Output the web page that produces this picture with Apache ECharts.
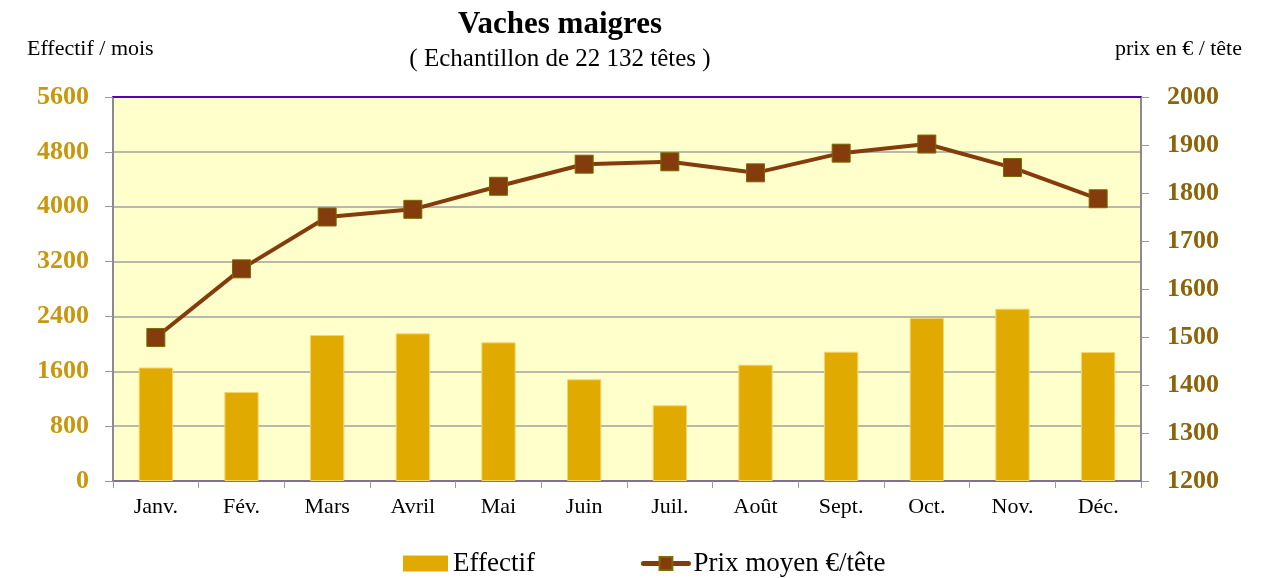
<!DOCTYPE html>
<html>
<head>
<meta charset="utf-8">
<script src="https://cdn.jsdelivr.net/npm/echarts@6/dist/echarts.min.js"></script>
<style>
  html, body { margin: 0; padding: 0; background: #fff; }
  #main { width: 1267px; height: 578px; }
</style>
</head>
<body>
<div id="main"></div>
<script>
// données
const mois = ['Janv.', 'Fév.', 'Mars', 'Avril', 'Mai', 'Juin', 'Juil.', 'Août', 'Sept.', 'Oct.', 'Nov.', 'Déc.']
const effectif = [1655, 1298, 2129, 2153, 2022, 1483, 1104, 1696, 1886, 2377, 2513, 1881]
const prixMoyen = [1499, 1642, 1750, 1766, 1814, 1860, 1865, 1842, 1883, 1902, 1853, 1788]

const serif = '"Liberation Serif", "DejaVu Serif", serif'

const myChart = echarts.init(document.getElementById('main'))

const option = {
  backgroundColor: '#ffffff',
  animation: false,
  title: [
    {
      text: 'Vaches maigres',
      left: 555, top: 4, textAlign: 'center',
      textStyle: { fontFamily: serif, fontSize: 31, fontWeight: 'bold', color: '#000' }
    },
    {
      text: '( Echantillon de 22 132 têtes )',
      left: 555, top: 42, textAlign: 'center',
      textStyle: { fontFamily: serif, fontSize: 25, fontWeight: 'normal', color: '#000' }
    },
    {
      text: 'Effectif / mois',
      left: 27, top: 38, padding: 0,
      textStyle: { fontFamily: serif, fontSize: 22, fontWeight: 'normal', color: '#000' }
    },
    {
      text: 'prix en € / tête',
      right: 25, top: 38, padding: 0,
      textStyle: { fontFamily: serif, fontSize: 22, fontWeight: 'normal', color: '#000' }
    }
  ],
  legend: {
    top: 545,
    left: 398,
    itemGap: 106,
    textStyle: { fontFamily: serif, fontSize: 27, color: '#000' },
    data: [
      { name: 'Effectif', icon: 'rect', itemStyle: { borderWidth: 0 } },
      { name: 'Prix moyen €/tête', lineStyle: { width: 5, cap: 'round' } }
    ],
    itemWidth: 45,
    itemHeight: 16
  },
  grid: {
    left: 113, right: 126, top: 97, bottom: 97,
    show: true,
    backgroundColor: '#FFFFCC',
    borderWidth: 0
  },
  xAxis: [
    {
      type: 'category',
      data: mois,
      axisLine: { lineStyle: { color: '#7f6f9a', width: 2 } },
      axisTick: { show: true, length: 7, lineStyle: { color: '#999' } },
      axisLabel: { fontFamily: serif, fontSize: 22, color: '#000', margin: 15 }
    },
    {
      type: 'category',
      position: 'top',
      data: mois,
      axisLine: { lineStyle: { color: '#5a00b4', width: 2 } },
      axisTick: { show: false },
      axisLabel: { show: false }
    }
  ],
  yAxis: [
    {
      type: 'value',
      min: 0, max: 5600, interval: 800,
      axisLine: { show: true, lineStyle: { color: '#8c8896', width: 2 } },
      axisTick: { show: true, length: 8, lineStyle: { color: '#999' } },
      axisLabel: {
        fontFamily: serif, fontSize: 26, fontWeight: 'bold', color: '#C9960C', margin: 24,
        formatter: v => String(v)
      },
      splitLine: { lineStyle: { color: '#a0a0a0', width: 1.5 } }
    },
    {
      type: 'value',
      min: 1200, max: 2000, interval: 100,
      position: 'right',
      axisLine: { show: true, lineStyle: { color: '#8c8896', width: 2 } },
      axisTick: { show: true, length: 8, lineStyle: { color: '#999' } },
      axisLabel: {
        fontFamily: serif, fontSize: 26, fontWeight: 'bold', color: '#8B6508', margin: 26,
        formatter: v => String(v)
      },
      splitLine: { show: false }
    }
  ],
  series: [
    {
      name: 'Effectif',
      type: 'bar',
      data: effectif,
      barWidth: '40%',
      itemStyle: { color: '#E1AA00', borderColor: '#F3D46A', borderWidth: 1 }
    },
    {
      name: 'Prix moyen €/tête',
      type: 'line',
      yAxisIndex: 1,
      data: prixMoyen,
      symbol: 'rect',
      symbolSize: 18,
      lineStyle: { color: '#843C0C', width: 4 },
      itemStyle: { color: '#843C0C', borderColor: '#7A6A00', borderWidth: 1 }
    }
  ]
}

myChart.setOption(option)
</script>
</body>
</html>
